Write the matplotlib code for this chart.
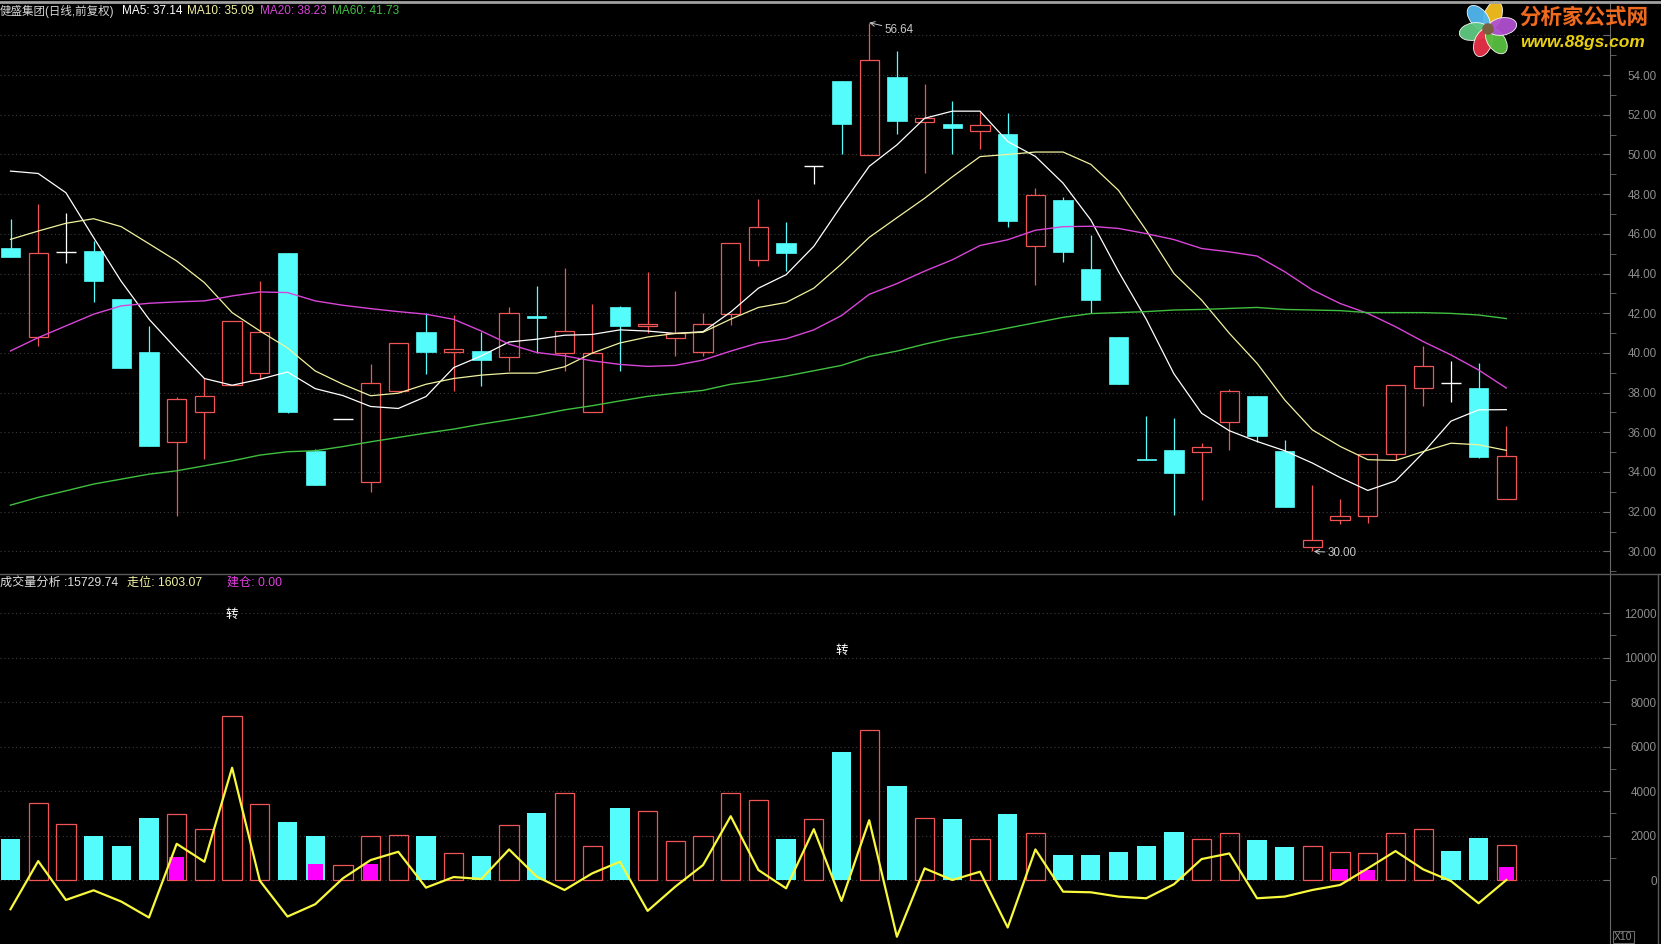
import numpy as np
import matplotlib.pyplot as plt
from matplotlib.patches import Rectangle, Ellipse, Circle
from matplotlib.lines import Line2D

plt.rcParams['font.family'] = ['Liberation Sans', 'Noto Sans CJK SC', 'DejaVu Sans']

# --- Kursdaten ---
opens = [45.27, 40.82, 45.10, 45.12, 42.70, 40.03, 35.49, 37.03, 38.37, 39.01,
         45.05, 35.07, 36.66, 33.52, 38.10, 41.04, 40.02, 40.08, 39.77, 41.85,
         40.00, 37.04, 42.33, 41.38, 40.77, 40.05, 41.97, 44.69, 45.55, 49.44,
         53.72, 49.99, 53.92, 51.64, 51.52, 51.20, 51.02, 45.41, 47.70, 44.21,
         40.78, 34.66, 35.12, 35.00, 36.51, 37.83, 35.07, 30.22, 31.56, 31.77,
         34.90, 38.22, 38.50, 38.22, 32.64]
highs = [46.73, 47.48, 47.03, 45.64, 42.70, 41.33, 37.80, 38.76, 41.63, 43.62,
         45.05, 35.15, 36.66, 39.46, 40.52, 42.00, 41.90, 41.06, 42.30, 43.37,
         44.30, 42.47, 42.38, 44.08, 43.13, 42.00, 45.55, 47.74, 46.59, 49.44,
         53.72, 56.64, 55.23, 53.53, 52.67, 52.15, 52.09, 48.33, 47.88, 45.95,
         40.78, 36.83, 36.71, 35.45, 38.17, 37.83, 35.62, 33.36, 32.64, 34.90,
         38.39, 40.35, 39.59, 39.51, 36.33]
lows = [44.83, 40.35, 44.55, 42.57, 39.24, 35.32, 31.80, 34.65, 38.37, 38.67,
        36.96, 33.36, 36.66, 33.00, 38.10, 38.96, 38.09, 38.34, 39.09, 40.00,
        39.10, 37.04, 39.10, 40.98, 39.82, 39.82, 41.39, 44.39, 44.15, 48.51,
        50.03, 49.99, 51.02, 49.05, 50.03, 50.25, 46.36, 43.40, 44.57, 42.00,
        38.42, 34.58, 31.85, 32.57, 35.12, 35.49, 32.22, 30.00, 31.40, 31.43,
        34.58, 37.33, 37.55, 34.70, 32.64]
closes = [44.83, 45.05, 45.10, 43.62, 39.24, 35.32, 37.67, 37.84, 41.63, 41.07,
          37.03, 33.36, 36.66, 38.50, 40.52, 40.05, 40.22, 39.65, 42.03, 41.78,
          41.11, 40.00, 41.34, 41.48, 40.98, 41.47, 45.55, 46.34, 45.01, 49.44,
          51.54, 54.78, 51.68, 51.82, 51.34, 51.47, 46.63, 47.97, 45.07, 42.65,
          38.42, 34.58, 33.94, 35.25, 38.09, 35.79, 32.22, 30.59, 31.80, 34.90,
          38.39, 39.34, 38.50, 34.73, 34.78]

ma5 = [49.16, 49.04, 48.07, 45.81, 43.60, 41.70, 40.18, 38.71, 38.37, 38.67,
       39.04, 38.20, 37.85, 37.30, 37.20, 37.80, 39.26, 39.85, 40.55, 40.69,
       40.89, 40.93, 41.16, 41.10, 40.98, 41.07, 42.06, 43.26, 43.94, 45.37,
       47.43, 49.40, 50.48, 51.82, 52.18, 52.18, 50.65, 49.90, 48.55, 46.70,
       44.10, 41.70, 38.95, 36.96, 36.08, 35.54, 35.07, 34.45, 33.72, 33.07,
       33.55, 34.97, 36.56, 37.13, 37.14]
ma10 = [45.72, 46.14, 46.53, 46.76, 46.36, 45.50, 44.63, 43.54, 42.03, 41.11,
        40.25, 39.09, 38.42, 37.84, 37.97, 38.42, 38.71, 38.88, 38.98, 38.98,
        39.30, 39.99, 40.50, 40.80, 40.98, 41.04, 41.70, 42.29, 42.54, 43.26,
        44.48, 45.82, 46.81, 47.79, 48.87, 49.89, 50.00, 50.12, 50.12, 49.50,
        48.19, 46.18, 44.00, 42.66, 40.99, 39.48, 37.63, 36.12, 35.29, 34.62,
        34.58, 35.03, 35.45, 35.37, 35.09]
ma20 = [40.10, 40.77, 41.36, 41.95, 42.37, 42.50, 42.57, 42.62, 42.87, 43.07,
        43.04, 42.62, 42.40, 42.23, 42.08, 41.95, 41.69, 41.10, 40.44, 40.02,
        39.85, 39.60, 39.42, 39.32, 39.37, 39.64, 40.09, 40.50, 40.71, 41.16,
        41.88, 42.95, 43.49, 44.12, 44.69, 45.41, 45.70, 46.18, 46.36, 46.38,
        46.27, 46.01, 45.71, 45.26, 45.09, 44.88, 44.09, 43.17, 42.49, 41.99,
        41.32, 40.57, 39.90, 39.14, 38.23]
ma60 = [32.33, 32.72, 33.05, 33.39, 33.64, 33.89, 34.06, 34.31, 34.56, 34.85,
        35.02, 35.07, 35.28, 35.52, 35.74, 35.96, 36.16, 36.41, 36.63, 36.86,
        37.13, 37.34, 37.58, 37.81, 37.97, 38.11, 38.42, 38.60, 38.83, 39.10,
        39.37, 39.82, 40.09, 40.44, 40.75, 40.98, 41.25, 41.52, 41.79, 41.98,
        42.03, 42.08, 42.16, 42.19, 42.24, 42.29, 42.19, 42.16, 42.13, 42.03,
        42.03, 42.03, 41.99, 41.91, 41.73]

# --- Volumen-Fenster ---
volumen = [1821, 3464, 2523, 1956, 1508, 2807, 2971, 2299, 7360, 3419,
           2628, 1956, 687, 2000, 2030, 2000, 1224, 1060, 2478, 3031,
           3912, 1538, 3255, 3105, 1762, 2000, 3912, 3613, 1821, 2747,
           5763, 6733, 4240, 2807, 2762, 1821, 2986, 2120, 1105, 1105,
           1239, 1508, 2180, 1851, 2120, 1777, 1463, 1538, 1269, 1224,
           2120, 2299, 1284, 1866, 1573]
zouwei = [-1314, 851, -896, -463, -970, -1687, 1627, 821, 5046, -30,
          -1642, -1090, 75, 896, 1269, -343, 134, 45, 1374, 149,
          -450, 299, 821, -1388, -299, 672, 2867, 448, -373, 2284,
          -941, 2687, -2550, 523, 0, 373, -2135, 1374, -523, -552,
          -746, -821, -194, 941, 1194, -821, -746, -448, -224, 523,
          1299, 478, -45, -1045, 0]
jiancang_idx = [6, 11, 13, 48, 49, 54]
jiancang_val = [1015, 702, 702, 478, 448, 567]
zhuan_idx = [8, 30]
zhuan_val = [11900, 10290]

price_ticks = list(range(30, 57, 2))
vol_ticks = list(range(0, 12001, 2000))

# Farben
ROT = '#f05454'
CYAN = '#54fcfc'
GRAU = '#8c8c8c'

W, H = 1661, 944
fig = plt.figure(figsize=(W / 100, H / 100), dpi=100, facecolor='black')


def box(x0, y0, x1, y1):
    return [x0 / W, 1 - y1 / H, (x1 - x0) / W, (y1 - y0) / H]


def ftext(x, y, s, color, size=8.5, **kw):
    fig.text(x / W, 1 - y / H, s, color=color, fontsize=size, va='center', **kw)


ax = fig.add_axes(box(0, 2, 1610, 573))
axv = fig.add_axes(box(0, 574, 1610, 944))

n = len(closes)
x = np.arange(n)
bw = 0.70
xlim = (-10.5 / 27.7, (1610 - 10.5) / 27.7)

for a in (ax, axv):
    a.set_facecolor('black')
    a.set_xlim(*xlim)
    a.set_xticks([])
    for s in ('left', 'top', 'bottom'):
        a.spines[s].set_visible(False)
    a.spines['right'].set_color('#6a6a6a')
    a.yaxis.tick_right()
    a.grid(axis='y', which='major', color='#3a3a3a', linestyle=(0, (1, 2.5)), lw=0.8)
    a.set_axisbelow(True)
    a.tick_params(axis='y', which='major', direction='in', length=5, color='#6a6a6a',
                  labelcolor=GRAU, labelsize=8.4, pad=33.5)
    a.tick_params(axis='y', which='minor', direction='out', length=4, color='#6a6a6a')

# --- Kerzen ---
for i in range(n):
    o, h, l, c = opens[i], highs[i], lows[i], closes[i]
    if o == c:
        ax.vlines(i, l, h, color='white', lw=0.9)
        ax.hlines(c, i - bw / 2, i + bw / 2, color='white', lw=1.0)
    elif c > o:
        ax.vlines(i, c, h, color=ROT, lw=0.9)
        ax.vlines(i, l, o, color=ROT, lw=0.9)
        ax.add_patch(Rectangle((i - bw / 2, o), bw, c - o, fill=False, edgecolor=ROT, lw=0.9))
    else:
        ax.vlines(i, l, h, color=CYAN, lw=0.9)
        ax.add_patch(Rectangle((i - bw / 2, c), bw, o - c, facecolor=CYAN, edgecolor=CYAN, lw=0.5))

ax.plot(x, ma5, color='white', lw=0.9)
ax.plot(x, ma10, color='#f2f2a0', lw=0.9)
ax.plot(x, ma20, color='#d845d8', lw=1.0)
ax.plot(x, ma60, color='#40c040', lw=1.0)

ax.set_ylim(28.91, 57.68)
ax.set_yticks(price_ticks)
ax.set_yticklabels([f'{v:.2f}' if v < 56 else '' for v in price_ticks])
ax.set_yticks(range(29, 57, 2), minor=True)
for t in ax.get_yticklabels():
    t.set_ha('right')

hi = int(np.argmax(highs))
lo = int(np.argmin(lows))
ax.annotate(f'{highs[hi]:.2f}', xy=(hi, highs[hi]), xytext=(11, -5), textcoords='offset points',
            color='#c8c8c8', fontsize=8.4, va='center',
            arrowprops=dict(arrowstyle='->', color='#c8c8c8', lw=0.7, shrinkA=0, shrinkB=0))
ax.annotate(f'{lows[lo]:.2f}', xy=(lo, lows[lo]), xytext=(11, -1), textcoords='offset points',
            color='#c8c8c8', fontsize=8.4, va='center',
            arrowprops=dict(arrowstyle='->', color='#c8c8c8', lw=0.7, shrinkA=0, shrinkB=1))

# --- Volumen-Balken ---
for i in range(n):
    if opens[i] == closes[i]:
        hoch = i == 0 or closes[i] >= closes[i - 1]
    else:
        hoch = closes[i] > opens[i]
    if hoch:
        axv.bar(i, volumen[i], width=bw, facecolor='none', edgecolor=ROT, lw=0.9)
    else:
        axv.bar(i, volumen[i], width=bw, color=CYAN)
axv.bar(jiancang_idx, jiancang_val, width=0.55, color='#ff00ff', zorder=3)
axv.plot(x, zouwei, color='#f8f83c', lw=1.6, zorder=4)
for i, v in zip(zhuan_idx, zhuan_val):
    axv.text(i, v, '转', color='white', fontsize=9, ha='center', va='center')

axv.set_ylim(-2876, 13753)
axv.set_yticks(vol_ticks)
axv.set_yticklabels([str(v) for v in vol_ticks])
axv.set_yticks(range(1000, 12001, 2000), minor=True)
for t in axv.get_yticklabels():
    t.set_ha('right')

# --- Rahmenlinien ---
fig.add_artist(Line2D([0, 1], [1 - 1.5 / H, 1 - 1.5 / H], color='#a0a0a0', lw=2))
fig.add_artist(Line2D([0, 1], [1 - 573.5 / H, 1 - 573.5 / H], color='#5a5a5a', lw=1))
fig.add_artist(Line2D([1658 / W, 1658 / W], [0, 1 - 573.5 / H], color='#5a5a5a', lw=1))

# --- Titelzeilen ---
ftext(0, 11, '健盛集团(日线,前复权)', '#d8d8d8', size=8.3)
ftext(122, 11, f'MA5: {ma5[-1]:.2f}', 'white')
ftext(187, 11, f'MA10: {ma10[-1]:.2f}', '#f2f2a0')
ftext(260, 11, f'MA20: {ma20[-1]:.2f}', '#d845d8')
ftext(332, 11, f'MA60: {ma60[-1]:.2f}', '#40c040')

ftext(0, 583, '成交量分析 :15729.74', '#e0e0e0', size=8.7)
ftext(127, 583, '走位: 1603.07', '#f2f2a0', size=8.7)
ftext(227, 583, '建仓: 0.00', '#e040e0', size=8.7)

fig.text(1614 / W, 1 - 937 / H, 'X10', color=GRAU, fontsize=7.5, va='center',
         bbox=dict(facecolor='none', edgecolor='#6a6a6a', pad=0.8, lw=0.8))

# --- Logo oben rechts ---
axl = fig.add_axes(box(1458, 0, 1518, 58))
axl.set_xlim(-1, 1)
axl.set_ylim(-1, 1)
axl.set_aspect('equal')
axl.axis('off')
for ang, col in [(70, '#f4c020'), (130, '#50b8f0'), (190, '#60c880'),
                 (250, '#e83048'), (305, '#58c040'), (10, '#b050d0')]:
    r = np.deg2rad(ang)
    axl.add_patch(Ellipse((0.5 * np.cos(r), 0.5 * np.sin(r)), 1.0, 0.6, angle=ang,
                          facecolor=col, edgecolor='white', lw=0.6, alpha=0.95))
axl.add_patch(Circle((0, 0), 0.2, facecolor='#7a6040'))
ftext(1519, 18, '分析家公式网', '#f06a1e', size=15.5, weight='bold')
ftext(1520, 42, 'www.88gs.com', '#e8d010', size=12.5, weight='bold', style='italic')

fig.savefig('out.png', dpi=100, facecolor='black')
